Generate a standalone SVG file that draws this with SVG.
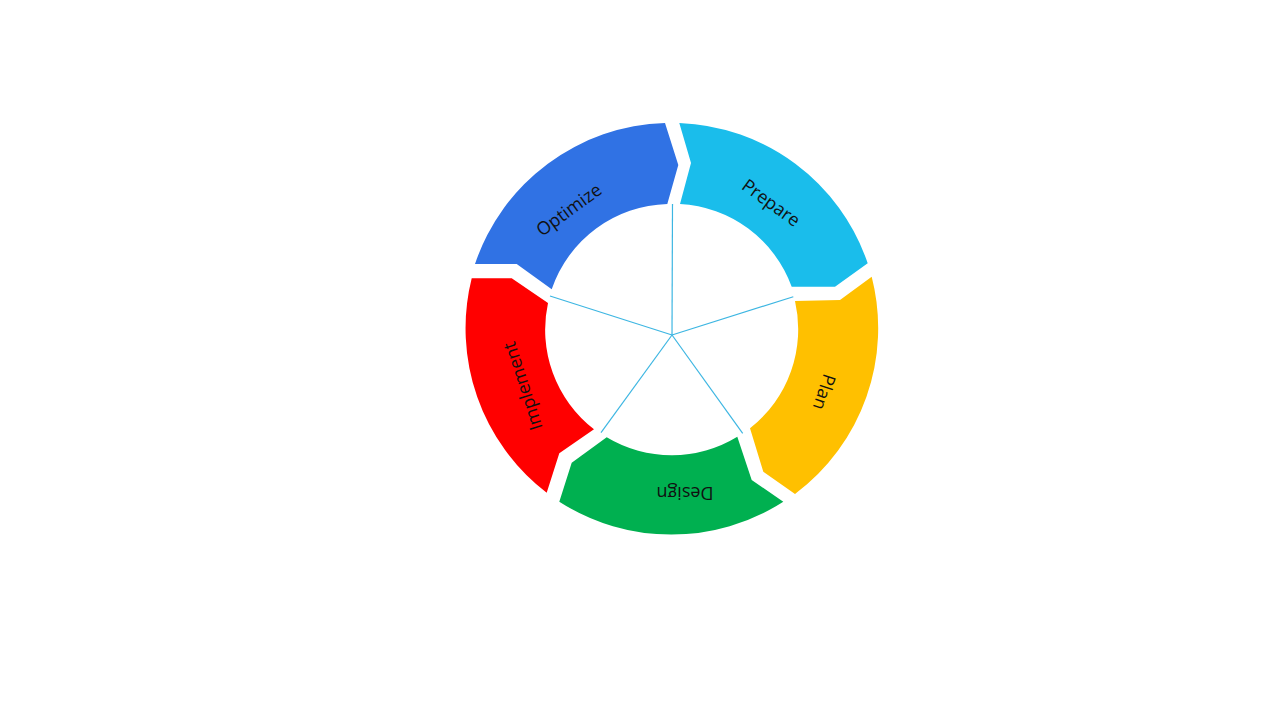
<svg xmlns="http://www.w3.org/2000/svg" width="1280" height="720" viewBox="0 0 1280 720">
  <style>
    .seg { stroke: none; }
    .lbl { font-family: "Open Sans", "Noto Sans", sans-serif; font-size: 18px; fill: #111111; text-anchor: middle; }
    .spoke { stroke: #3DB6E2; stroke-width: 1.2; fill: none; }
  </style>
  <rect width="1280" height="720" fill="#FFFFFF"/>
  <g id="connectors">
    <line class="spoke" x1="672" y1="335" x2="672.5" y2="204"/>
    <line class="spoke" x1="672" y1="335" x2="793.3" y2="296.7"/>
    <line class="spoke" x1="672" y1="335" x2="742.7" y2="433.3"/>
    <line class="spoke" x1="672" y1="335" x2="601" y2="432.7"/>
    <line class="spoke" x1="672" y1="335" x2="550" y2="296"/>
  </g>
  <g id="optimize">
    <path class="seg" fill="#3072E4" d="M 475 264 A 207 207 0 0 1 665 123 L 678.3 165 L 667.3 204 A 126 126 0 0 0 551.7 289.3 L 516.7 264 Z"/>
    <text class="lbl" transform="translate(569 210) rotate(-36)" y="6">Optimize</text>
  </g>
  <g id="prepare">
    <path class="seg" fill="#1ABDEB" d="M 679.3 123 A 207 207 0 0 1 867.7 263.3 L 835 286.7 L 791.7 286.7 A 126 126 0 0 0 680 204 L 691 163 Z"/>
    <text class="lbl" transform="translate(771 203) rotate(36)" y="6">Prepare</text>
  </g>
  <g id="plan">
    <path class="seg" fill="#FFC000" d="M 871.7 276.7 A 207 207 0 0 1 795 494 L 763.3 471.7 L 750 428.3 A 126 126 0 0 0 795 301 L 840 300 Z"/>
    <text class="lbl" transform="translate(824 392) rotate(108)" y="6">Plan</text>
  </g>
  <g id="design">
    <path class="seg" fill="#00B050" d="M 783.3 501.7 A 207 207 0 0 1 559.3 501.7 L 571.7 462.7 L 606.7 437.3 A 126 126 0 0 0 737.3 436.7 L 751.7 480 Z"/>
    <text class="lbl" transform="translate(685 493) rotate(180)" y="6">Design</text>
  </g>
  <g id="implement">
    <path class="seg" fill="#FF0000" d="M 546.7 492.7 A 207 207 0 0 1 471.7 278.3 L 511.7 278.3 L 548 303 A 126 126 0 0 0 594 429.3 L 559.3 453.3 Z"/>
    <text class="lbl" transform="translate(523 386) rotate(-108)" y="6">Implement</text>
  </g>
</svg>
